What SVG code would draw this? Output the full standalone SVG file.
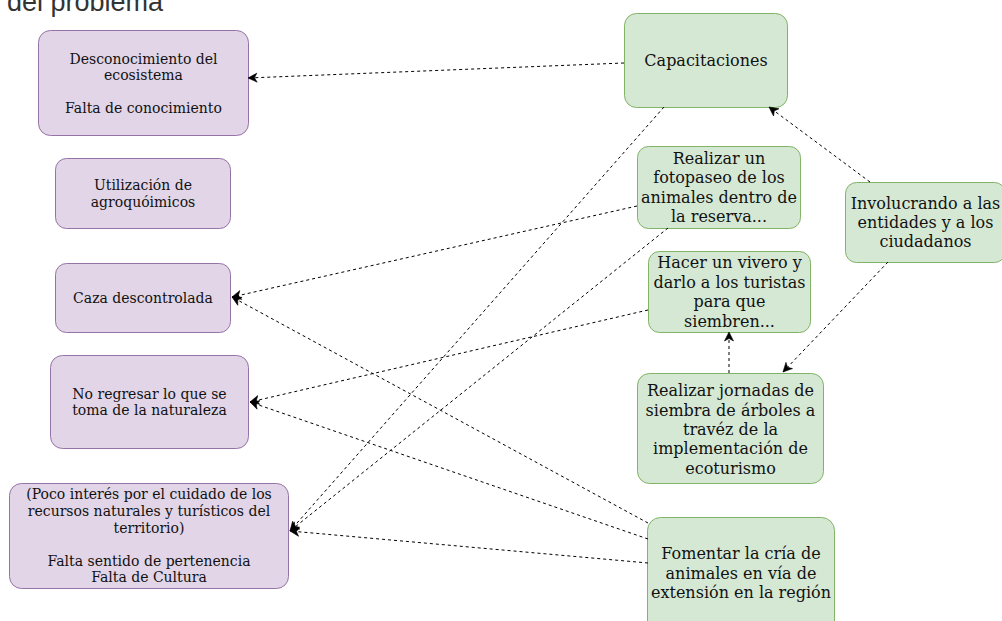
<svg xmlns="http://www.w3.org/2000/svg" width="1002" height="621" viewBox="0 0 1002 621">
<defs>
<marker id="arr" markerUnits="userSpaceOnUse" markerWidth="12" markerHeight="12" refX="9" refY="4.5" orient="auto" overflow="visible">
<path d="M9,4.5 L0,0 L2.5,4.5 L0,9 Z" fill="#000" stroke="#000" stroke-width="0.6"/>
</marker>
</defs>
<style>
.p{fill:#e1d5e7;stroke:#9673a6;stroke-width:1}
.g{fill:#d5e8d4;stroke:#82b366;stroke-width:1}
.t14{font-family:"DejaVu Serif",serif;font-size:14px;fill:#111;text-anchor:middle}
.t16{font-family:"DejaVu Serif",serif;font-size:16px;fill:#111;text-anchor:middle}
.e{fill:none;stroke:#000;stroke-width:1;stroke-dasharray:3 3;marker-end:url(#arr)}
</style>
<rect width="1002" height="621" fill="#fff"/>
<text x="7" y="10.5" font-family="Liberation Sans, Arial, sans-serif" font-size="27" fill="#333">del problema</text>

<g id="n-desconocimiento">
<rect class="p" x="38.5" y="30.5" width="210" height="105" rx="12"/>
<text class="t14" x="143.5"><tspan x="143.5" y="63.6">Desconocimiento del</tspan><tspan x="143.5" y="79.9">ecosistema</tspan><tspan x="143.5" y="112.5">Falta de conocimiento</tspan></text>
</g>
<g id="n-utilizacion">
<rect class="p" x="55.5" y="158.5" width="175" height="70" rx="11"/>
<text class="t14"><tspan x="143" y="190.1">Utilización de</tspan><tspan x="143" y="206.5">agroquóimicos</tspan></text>
</g>
<g id="n-caza">
<rect class="p" x="55.5" y="263.5" width="175" height="69" rx="11"/>
<text class="t14" x="143" y="303">Caza descontrolada</text>
</g>
<g id="n-noregresar">
<rect class="p" x="50.5" y="355.5" width="198" height="93" rx="12"/>
<text class="t14"><tspan x="149.5" y="398.6">No regresar lo que se</tspan><tspan x="149.5" y="415">toma de la naturaleza</tspan></text>
</g>
<g id="n-pocointeres">
<rect class="p" x="9.5" y="483.5" width="279" height="105" rx="12"/>
<text class="t14"><tspan x="149" y="499.3">(Poco interés por el cuidado de los</tspan><tspan x="149" y="515.9">recursos naturales y turísticos del</tspan><tspan x="149" y="532.5">territorio)</tspan><tspan x="149" y="565.7">Falta sentido de pertenencia</tspan><tspan x="149" y="582.3">Falta de Cultura</tspan></text>
</g>

<g id="n-capacitaciones">
<rect class="g" x="624.5" y="13.5" width="163" height="94" rx="12"/>
<text class="t16" x="706" y="66">Capacitaciones</text>
</g>
<g id="n-fotopaseo">
<rect class="g" x="637.5" y="146.5" width="163" height="82" rx="11"/>
<text class="t16"><tspan x="719" y="163.9">Realizar un</tspan><tspan x="719" y="183.3">fotopaseo de los</tspan><tspan x="719" y="202.7">animales dentro de</tspan><tspan x="719" y="222.1">la reserva...</tspan></text>
</g>
<g id="n-involucrando">
<rect class="g" x="845.5" y="182.5" width="160" height="80" rx="11"/>
<text class="t16"><tspan x="925.5" y="208.6">Involucrando a las</tspan><tspan x="925.5" y="228">entidades y a los</tspan><tspan x="925.5" y="247.4">ciudadanos</tspan></text>
</g>
<g id="n-vivero">
<rect class="g" x="648.5" y="251.5" width="162" height="81" rx="11"/>
<text class="t16"><tspan x="729.5" y="268.4">Hacer un vivero y</tspan><tspan x="729.5" y="287.8">darlo a los turistas</tspan><tspan x="729.5" y="307.2">para que</tspan><tspan x="729.5" y="326.6">siembren...</tspan></text>
</g>
<g id="n-jornadas">
<rect class="g" x="637.5" y="373.5" width="186" height="110" rx="12"/>
<text class="t16"><tspan x="730.5" y="396.2">Realizar jornadas de</tspan><tspan x="730.5" y="415.6">siembra de árboles a</tspan><tspan x="730.5" y="435">travéz de la</tspan><tspan x="730.5" y="454.4">implementación de</tspan><tspan x="730.5" y="473.8">ecoturismo</tspan></text>
</g>
<g id="n-fomentar">
<rect class="g" x="647.5" y="517.5" width="187" height="120" rx="13"/>
<text class="t16"><tspan x="741" y="559.4">Fomentar la cría de</tspan><tspan x="741" y="578.8">animales en vía de</tspan><tspan x="741" y="598.2">extensión en la región</tspan></text>
</g>

<g id="connectors">
<path class="e" d="M624,63 L248,78"/>
<path class="e" d="M664,107 L290,531"/>
<path class="e" d="M637,206 L232,297"/>
<path class="e" d="M668,228 L290,531"/>
<path class="e" d="M648,310 L250,402"/>
<path class="e" d="M729,373 L729,332"/>
<path class="e" d="M870,182 L769,107"/>
<path class="e" d="M888,262 L783,372"/>
<path class="e" d="M648,523 L232,297"/>
<path class="e" d="M648,539 L250,402"/>
<path class="e" d="M648,563 L290,531"/>
</g>
</svg>
